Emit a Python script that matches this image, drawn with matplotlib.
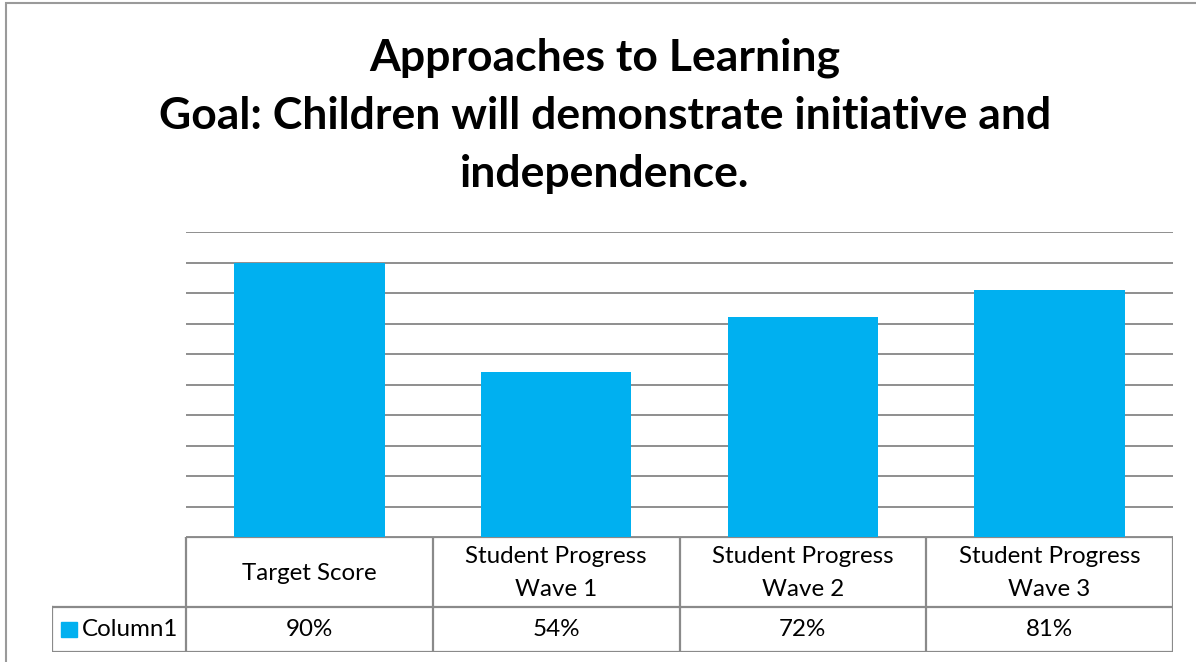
import matplotlib

matplotlib.use("Agg")

import matplotlib.pyplot as plt
from matplotlib.patches import Rectangle

# chart data
title_lines = [
    "Approaches to Learning",
    "Goal: Children will demonstrate initiative and",
    "independence.",
]
categories = ["Target Score", "Student Progress\nWave 1", "Student Progress\nWave 2", "Student Progress\nWave 3"]
values = [0.90, 0.54, 0.72, 0.81]
series_name = "Column1"

BAR_COLOR = "#00B0F0"
GRID_COLOR = "#868686"
W, H = 1196, 662

plt.rcParams["font.family"] = ["Lato", "DejaVu Sans"]

fig = plt.figure(figsize=(W / 100, H / 100), dpi=100)


def fx(px):
    return px / W


def fy(py):
    return 1 - py / H


# outer chart frame (right/bottom edges fall outside the image)
fig.patches.append(Rectangle((fx(6), fy(700)), fx(1300), 697 / H, transform=fig.transFigure,
                             fill=False, edgecolor="#9a9a9a", linewidth=1.5))

fig.text(fx(605), fy(116), "\n".join(title_lines), ha="center", va="center",
         fontsize=32, fontweight="bold", linespacing=1.54)

# plot area
x0, x1, ytop, ybot = 186, 1173, 232, 537
ax = fig.add_axes([fx(x0), fy(ybot), fx(x1 - x0), (ybot - ytop) / H])
n = len(categories)
ax.bar([i + 0.5 for i in range(n)], values, width=0.61, color=BAR_COLOR, zorder=2)
ax.set_xlim(0, n)
ax.set_ylim(0, 1)
ax.set_yticks([i / 10 for i in range(11)])
ax.yaxis.grid(True, color=GRID_COLOR, linewidth=1.3, zorder=0)
ax.tick_params(left=False, bottom=False, labelleft=False, labelbottom=False)
for s in ax.spines.values():
    s.set_visible(False)

# data table below the plot
tx0, tbot = 52, 652
col_w = (x1 - x0) / n
tax = fig.add_axes([fx(tx0), fy(tbot), fx(x1 - tx0), (tbot - ybot) / H])
tax.set_xlim(-(x0 - tx0) / col_w, n)
tax.set_ylim(0, tbot - ybot)
tax.axis("off")
mid = tbot - 607  # y of the row split, in pixels from the table bottom
top = tbot - ybot
lc = dict(color="#8a8a8a", linewidth=1.6, solid_capstyle="projecting")
lx = -(x0 - tx0) / col_w
tax.plot([0, n], [top, top], **lc)
tax.plot([lx, n], [mid, mid], **lc)
tax.plot([lx, n], [0, 0], **lc)
tax.plot([lx, lx], [0, mid], **lc)
for i in range(n + 1):
    tax.plot([i, i], [0, top], **lc)
for i, (c, v) in enumerate(zip(categories, values)):
    tax.text(i + 0.5, (mid + top) / 2 - 1, c, ha="center", va="center", fontsize=17.4, linespacing=1.75)
    tax.text(i + 0.5, mid / 2, f"{v:.0%}", ha="center", va="center", fontsize=17.4)
fig.patches.append(Rectangle((fx(61), fy(637)), fx(16), 15 / H, transform=fig.transFigure,
                             color=BAR_COLOR))
tax.text(lx + 30 / col_w, mid / 2, series_name, ha="left", va="center", fontsize=17.4)

fig.savefig("out.png", dpi=100)
